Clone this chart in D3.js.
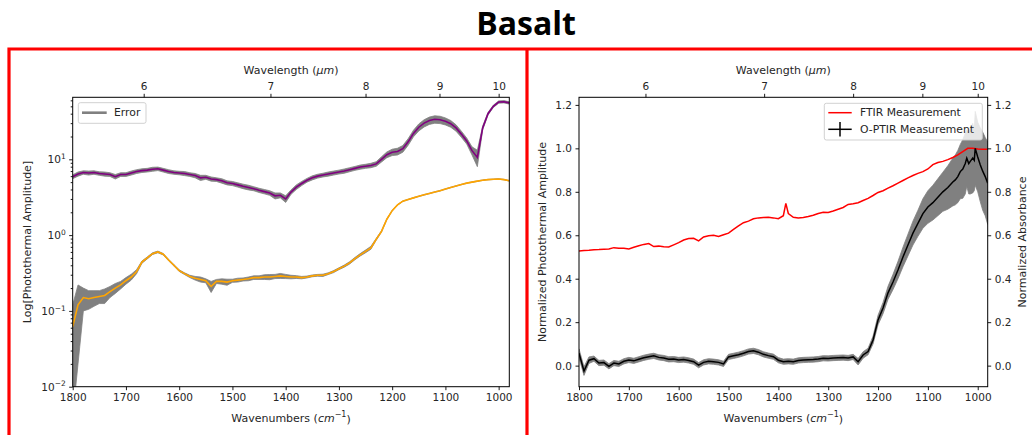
<!DOCTYPE html>
<html>
<head>
<meta charset="utf-8">
<script src="https://cdn.jsdelivr.net/npm/d3@7"></script>
<style>
  html, body { margin: 0; padding: 0; background: #fff; }
  svg text { font-family: "DejaVu Sans", sans-serif; fill: #262626; }
</style>
</head>
<body>
<svg id="fig" width="1032" height="435"></svg>
<script>
// ---- Data -----------------------------------------------------------------
// Wavenumber grid (cm^-1) shared by the two photothermal amplitude spectra
const wnLeft = [1800,1790,1780,1770,1760,1750,1740,1730,1720,1710,
  1700,1690,1680,1670,1660,1650,1640,1630,1620,1610,
  1600,1590,1580,1570,1560,1550,1540,1530,1520,1510,
  1500,1490,1480,1470,1460,1450,1440,1430,1420,1410,
  1400,1390,1380,1370,1360,1350,1340,1330,1320,1310,
  1300,1290,1280,1270,1260,1250,1240,1230,1220,1210,
  1200,1190,1180,1170,1160,1150,1140,1130,1120,1110,
  1100,1090,1080,1070,1060,1050,1040,1030,1020,1010,
  1000,990,980];

// Photothermal amplitude, upper (purple) spectrum and its error
const sampleAmp = [5.9,6.4,6.7,6.6,6.7,6.5,6.4,6.3,5.9,6.3,
  6.3,6.6,6.9,7.1,7.2,7.4,7.5,7.2,6.9,6.7,
  6.6,6.5,6.3,6.1,5.7,5.8,5.5,5.4,5.2,4.9,
  4.8,4.6,4.4,4.25,4.1,3.9,3.75,3.6,3.3,3.35,
  3.0,3.7,4.3,4.8,5.3,5.7,6.0,6.2,6.4,6.6,
  6.8,7.0,7.3,7.6,7.9,8.1,8.3,8.7,10.0,11.5,
  12.4,12.7,13.8,17,22,26.5,30,32.5,33.7,33.3,
  31.8,29.5,26,21.5,17.5,13,10.6,26,40,50,
  57,57.5,55.5];
const sampleErr = [0.35,0.4,0.35,0.4,0.35,0.35,0.4,0.35,0.4,0.35,
  0.35,0.4,0.4,0.4,0.4,0.45,0.4,0.4,0.4,0.35,
  0.35,0.4,0.35,0.4,0.45,0.35,0.35,0.3,0.35,0.3,
  0.3,0.3,0.3,0.3,0.25,0.25,0.25,0.25,0.3,0.25,
  0.3,0.25,0.3,0.3,0.3,0.35,0.35,0.35,0.4,0.4,
  0.4,0.45,0.45,0.45,0.5,0.5,0.55,0.6,0.8,1.0,
  1.2,1.3,1.4,1.7,2.2,2.8,3.3,3.6,3.8,3.7,
  3.4,3.0,2.5,2.0,1.6,1.6,2.6,1.5,1.6,1.8,
  2.0,2.0,2.0];

// Photothermal amplitude, lower (orange) spectrum and its error
const lowerAmp = [0.062,0.12,0.15,0.145,0.15,0.155,0.16,0.18,0.2,0.22,
  0.25,0.28,0.33,0.44,0.5,0.57,0.6,0.56,0.47,0.4,
  0.34,0.31,0.285,0.27,0.26,0.25,0.21,0.245,0.245,0.24,
  0.25,0.255,0.26,0.265,0.275,0.275,0.28,0.28,0.285,0.29,
  0.285,0.28,0.28,0.275,0.28,0.29,0.295,0.295,0.31,0.33,
  0.36,0.39,0.43,0.49,0.55,0.61,0.68,0.88,1.12,1.62,
  2.1,2.5,2.8,2.95,3.1,3.25,3.4,3.55,3.7,3.85,
  4.05,4.25,4.45,4.65,4.85,5.0,5.15,5.3,5.4,5.45,
  5.5,5.4,5.2];
const lowerErr = [0.058,0.1,0.05,0.04,0.035,0.03,0.035,0.03,0.03,0.025,
  0.025,0.025,0.02,0.015,0.015,0.015,0.015,0.012,0.01,0.008,
  0.008,0.008,0.01,0.015,0.02,0.015,0.035,0.015,0.02,0.022,
  0.012,0.015,0.012,0.015,0.015,0.015,0.02,0.022,0.018,0.022,
  0.018,0.015,0.012,0.01,0.008,0.008,0.008,0.01,0.008,0.01,
  0.01,0.012,0.015,0.017,0.02,0.025,0.03,0.025,0.025,0.025,
  0.025,0.025,0.025,0.025,0.025,0.025,0.03,0.03,0.03,0.03,
  0.035,0.035,0.035,0.035,0.035,0.04,0.04,0.04,0.04,0.04,
  0.04,0.04,0.04];

// FTIR normalized absorbance
const ftirWn = [1800,1790,1780,1770,1760,1750,1740,1730,1720,1710,
  1700,1690,1680,1670,1660,1650,1640,1630,1620,1610,
  1600,1590,1580,1570,1560,1550,1540,1530,1520,1510,
  1500,1490,1480,1470,1460,1450,1440,1430,1420,1410,
  1400,1390,1385,1380,1370,1360,1350,1340,1330,1320,
  1310,1300,1290,1280,1270,1260,1250,1240,1230,1220,
  1210,1200,1190,1180,1170,1160,1150,1140,1130,1120,
  1110,1100,1090,1080,1070,1060,1050,1040,1030,1020,
  1010,1000,990,980];
const ftirAbs = [0.527,0.530,0.531,0.533,0.534,0.536,0.537,0.543,0.540,0.540,
  0.537,0.545,0.552,0.558,0.562,0.548,0.550,0.547,0.546,0.556,
  0.566,0.578,0.585,0.586,0.574,0.592,0.598,0.600,0.594,0.602,
  0.610,0.627,0.643,0.658,0.665,0.676,0.680,0.682,0.683,0.680,
  0.676,0.690,0.747,0.700,0.683,0.680,0.682,0.686,0.692,0.700,
  0.706,0.705,0.712,0.720,0.728,0.742,0.745,0.750,0.760,0.770,
  0.783,0.797,0.805,0.817,0.828,0.840,0.852,0.864,0.875,0.885,
  0.893,0.905,0.925,0.935,0.940,0.948,0.958,0.970,0.985,1.000,
  1.000,0.997,0.996,0.996];

// O-PTIR normalized photothermal amplitude and its error
const optirWn = [1800,1790,1780,1770,1760,1750,1740,1730,1720,1710,
  1700,1690,1680,1670,1660,1650,1640,1630,1620,1610,
  1600,1590,1580,1570,1560,1550,1540,1530,1520,1510,
  1500,1490,1480,1470,1460,1450,1440,1430,1420,1410,
  1400,1390,1380,1370,1360,1350,1340,1330,1320,1310,
  1300,1290,1280,1270,1260,1250,1240,1230,1220,1210,
  1200,1190,1180,1170,1160,1150,1140,1130,1120,1110,
  1100,1090,1080,1070,1060,1050,
  1045,1040,1035,1030,1025,1022,1018,1015,1010,1007,
  1005,1000,995,990,985,980];
const optirAmp = [0.057,-0.025,0.025,0.032,0.012,0.014,-0.003,0.012,0.008,0.020,
  0.026,0.022,0.029,0.036,0.041,0.045,0.038,0.035,0.029,0.030,
  0.026,0.028,0.024,0.018,0.002,0.015,0.020,0.018,0.015,0.008,
  0.040,0.045,0.050,0.057,0.065,0.068,0.062,0.052,0.046,0.041,
  0.025,0.018,0.020,0.018,0.024,0.026,0.027,0.028,0.030,0.034,
  0.033,0.035,0.036,0.037,0.035,0.040,0.018,0.049,0.065,0.118,
  0.210,0.265,0.335,0.385,0.440,0.500,0.555,0.610,0.655,0.700,
  0.730,0.750,0.775,0.800,0.820,0.845,
  0.855,0.870,0.893,0.905,0.930,0.955,0.930,0.940,0.955,0.945,
  1.000,0.960,0.925,0.895,0.870,0.840];
const optirErr = [0.02,0.02,0.015,0.012,0.012,0.012,0.012,0.012,0.012,0.012,
  0.012,0.012,0.012,0.012,0.012,0.012,0.012,0.012,0.012,0.012,
  0.012,0.012,0.012,0.012,0.012,0.012,0.012,0.012,0.012,0.012,
  0.012,0.012,0.012,0.012,0.012,0.012,0.012,0.012,0.012,0.012,
  0.012,0.012,0.012,0.012,0.012,0.012,0.012,0.012,0.012,0.012,
  0.012,0.012,0.012,0.012,0.012,0.012,0.015,0.015,0.015,0.018,
  0.022,0.026,0.03,0.035,0.04,0.045,0.05,0.055,0.06,0.068,
  0.075,0.08,0.085,0.09,0.1,0.11,
  0.115,0.12,0.125,0.135,0.14,0.13,0.14,0.15,0.16,0.14,
  0.17,0.16,0.17,0.18,0.18,0.19];

// Tick values
const wavenumberTicks = [1800,1700,1600,1500,1400,1300,1200,1100,1000];
const wavelengthTicks = [6,7,8,9,10];
const logTicks = [0.01,0.1,1,10];
const logMinorTicks = [0.02,0.03,0.04,0.05,0.06,0.07,0.08,0.09,
  0.2,0.3,0.4,0.5,0.6,0.7,0.8,0.9,2,3,4,5,6,7,8,9,20,30,40,50,60];
const normTicks = [0,0.2,0.4,0.6,0.8,1.0,1.2];
const legendLeft = ["Error"];
const legendRight = ["FTIR Measurement", "O-PTIR Measurement"];

// ---- Drawing --------------------------------------------------------------
const svg = d3.select("#fig");
svg.append("rect").attr("width", 1032).attr("height", 435).attr("fill", "#fff");

const TOP = 97.3, BOTTOM = 386.7;
const TICK = 3.5;

// title
svg.append("text").attr("x", 526).attr("y", 35)
  .attr("text-anchor", "middle")
  .style("font-family", "'Open Sans', sans-serif")
  .style("font-weight", 700).style("font-size", "32px").style("fill", "#000")
  .text("Basalt");

// red panel frames
svg.append("path").attr("d", "M9,435 V49 H1032")
  .attr("fill", "none").attr("stroke", "#ff0000").attr("stroke-width", 3.2);
svg.append("line").attr("x1", 527).attr("x2", 527).attr("y1", 49).attr("y2", 435)
  .attr("stroke", "#ff0000").attr("stroke-width", 3.2);

function styleAxis(g, size) {
  g.select(".domain").remove();
  g.selectAll(".tick line").attr("stroke", "#000").attr("stroke-width", 0.9);
  g.selectAll(".tick text").style("font-size", size + "px")
    .style("font-family", "'DejaVu Sans', sans-serif").attr("fill", "#262626");
  g.attr("font-family", null).attr("font-size", null);
}

function wavelengthAxis(g, x) {
  const ax = g.append("g").attr("transform", `translate(0,${TOP})`)
    .call(d3.axisTop(x)
      .tickValues(wavelengthTicks.map(l => 1e4 / l))
      .tickFormat(d => d3.format("d")(Math.round(1e4 / d)))
      .tickSize(TICK).tickPadding(3.5));
  styleAxis(ax, 10.5);
}

function wavenumberAxis(g, x) {
  const ax = g.append("g").attr("transform", `translate(0,${BOTTOM})`)
    .call(d3.axisBottom(x).tickValues(wavenumberTicks)
      .tickFormat(d3.format("d")).tickSize(TICK).tickPadding(3.5));
  styleAxis(ax, 10.5);
}

function axisTitle(g, x, y, rotate, parts) {
  const t = g.append("text")
    .attr("transform", `translate(${x},${y})` + (rotate ? " rotate(-90)" : ""))
    .attr("text-anchor", "middle").attr("dominant-baseline", "central")
    .style("font-size", "11px");
  parts.forEach(p => {
    const s = t.append("tspan").text(p.t);
    if (p.i) s.style("font-style", "italic");
    if (p.sup) s.attr("dy", "-0.45em").style("font-size", "8px");
    if (p.after) s.attr("dy", "0.45em");
  });
  return t;
}

function frame(g, x0, x1) {
  g.append("rect").attr("x", x0).attr("y", TOP)
    .attr("width", x1 - x0).attr("height", BOTTOM - TOP)
    .attr("fill", "none").attr("stroke", "#000").attr("stroke-width", 1);
}

function clip(id, x0, x1) {
  svg.append("clipPath").attr("id", id).append("rect")
    .attr("x", x0).attr("y", TOP).attr("width", x1 - x0).attr("height", BOTTOM - TOP);
}

const wavelengthTitle = [{t: "Wavelength ("}, {t: "μm", i: true}, {t: ")"}];
const wavenumberTitle = [{t: "Wavenumbers ("}, {t: "cm", i: true},
  {t: "−1", sup: true}, {t: ")", after: true}];

// ---- Left panel: log photothermal amplitude ----
const L0 = 72.7, L1 = 509.3;
const xL = d3.scaleLinear().domain([1800, 980]).range([L0, L1]);
const yL = d3.scaleLog().domain([0.01, 65.8]).range([BOTTOM, TOP]);
const gL = svg.append("g");
clip("clipL", L0, L1);
const plotL = gL.append("g").attr("clip-path", "url(#clipL)");

function logBand(vals, errs) {
  return d3.area()
    .x((d, i) => xL(wnLeft[i]))
    .y0((d, i) => yL(Math.max(vals[i] - errs[i], 0.004)))
    .y1((d, i) => yL(vals[i] + errs[i]))(vals);
}
function logLine(vals) {
  return d3.line().x((d, i) => xL(wnLeft[i])).y(d => yL(d))(vals);
}

plotL.append("path").attr("d", logBand(sampleAmp, sampleErr))
  .attr("fill", "#808080").attr("stroke", "#808080").attr("stroke-width", 0.8);
plotL.append("path").attr("d", logBand(lowerAmp, lowerErr))
  .attr("fill", "#808080").attr("stroke", "#808080").attr("stroke-width", 0.8);
plotL.append("path").attr("d", logLine(sampleAmp))
  .attr("fill", "none").attr("stroke", "#800080").attr("stroke-width", 1.6);
plotL.append("path").attr("d", logLine(lowerAmp))
  .attr("fill", "none").attr("stroke", "#ffa500").attr("stroke-width", 1.6);

frame(gL, L0, L1);
wavenumberAxis(gL, xL);
wavelengthAxis(gL, xL);

// log y axis with minor ticks and power-of-ten labels
const yAxL = gL.append("g").attr("transform", `translate(${L0},0)`)
  .call(d3.axisLeft(yL).tickValues(logTicks).tickFormat("").tickSize(TICK).tickPadding(3.5));
styleAxis(yAxL, 10.5);
yAxL.selectAll(".tick text").each(function(d) {
  const t = d3.select(this);
  const exp = Math.round(Math.log10(d));
  t.append("tspan").text("10");
  t.append("tspan").text(exp < 0 ? "−" + (-exp) : String(exp))
    .attr("dy", "-0.55em").style("font-size", "7.5px");
});
const yMinL = gL.append("g").attr("transform", `translate(${L0},0)`)
  .call(d3.axisLeft(yL).tickValues(logMinorTicks).tickFormat("").tickSize(2));
styleAxis(yMinL, 10);

axisTitle(gL, (L0 + L1) / 2, 70, false, wavelengthTitle);
axisTitle(gL, (L0 + L1) / 2, 418, false, wavenumberTitle);
axisTitle(gL, 27, (TOP + BOTTOM) / 2, true, [{t: "Log[Photothermal Amplitude]"}]);

// legend
const lgL = gL.append("g");
lgL.append("rect").attr("x", 78.3).attr("y", 102.7).attr("width", 67.7).attr("height", 20.6)
  .attr("rx", 2).attr("fill", "#fff").attr("fill-opacity", 0.8)
  .attr("stroke", "#cccccc").attr("stroke-width", 0.9);
lgL.append("line").attr("x1", 82).attr("x2", 106.7).attr("y1", 112.7).attr("y2", 112.7)
  .attr("stroke", "#808080").attr("stroke-width", 2.6);
lgL.append("text").attr("x", 114).attr("y", 112.9).attr("dominant-baseline", "central")
  .style("font-size", "10.8px").text(legendLeft[0]);

// ---- Right panel: normalized spectra ----
const R0 = 579, R1 = 987.7;
const xR = d3.scaleLinear().domain([1800, 980]).range([R0, R1]);
const yR = d3.scaleLinear().domain([-0.097, 1.235]).range([BOTTOM, TOP]);
const gR = svg.append("g");
clip("clipR", R0, R1);
const plotR = gR.append("g").attr("clip-path", "url(#clipR)");

plotR.append("path")
  .attr("d", d3.area()
    .x((d, i) => xR(optirWn[i]))
    .y0((d, i) => yR(optirAmp[i] - optirErr[i]))
    .y1((d, i) => yR(optirAmp[i] + optirErr[i]))(optirAmp))
  .attr("fill", "#808080").attr("stroke", "#808080").attr("stroke-width", 0.8);
plotR.append("path")
  .attr("d", d3.line().x((d, i) => xR(ftirWn[i])).y(d => yR(d))(ftirAbs))
  .attr("fill", "none").attr("stroke", "#ff0000").attr("stroke-width", 1.5);
plotR.append("path")
  .attr("d", d3.line().x((d, i) => xR(optirWn[i])).y(d => yR(d))(optirAmp))
  .attr("fill", "none").attr("stroke", "#000").attr("stroke-width", 1.5);

frame(gR, R0, R1);
wavenumberAxis(gR, xR);
wavelengthAxis(gR, xR);
const yAxR = gR.append("g").attr("transform", `translate(${R0},0)`)
  .call(d3.axisLeft(yR).tickValues(normTicks).tickFormat(d3.format(".1f")).tickSize(TICK).tickPadding(3.5));
styleAxis(yAxR, 10.5);
const yAxR2 = gR.append("g").attr("transform", `translate(${R1},0)`)
  .call(d3.axisRight(yR).tickValues(normTicks).tickFormat(d3.format(".1f")).tickSize(TICK).tickPadding(3.5));
styleAxis(yAxR2, 10.5);

axisTitle(gR, (R0 + R1) / 2, 70, false, wavelengthTitle);
axisTitle(gR, (R0 + R1) / 2, 418, false, wavenumberTitle);
axisTitle(gR, 541.7, (TOP + BOTTOM) / 2, true, [{t: "Normalized Photothermal Amplitude"}]);
axisTitle(gR, 1021.7, (TOP + BOTTOM) / 2, true, [{t: "Normalized Absorbance"}]);

const lgR = gR.append("g");
lgR.append("rect").attr("x", 824.3).attr("y", 103.3).attr("width", 158).attr("height", 36.7)
  .attr("rx", 2).attr("fill", "#fff").attr("fill-opacity", 0.8)
  .attr("stroke", "#cccccc").attr("stroke-width", 0.9);
lgR.append("line").attr("x1", 828.3).attr("x2", 851.7).attr("y1", 112.7).attr("y2", 112.7)
  .attr("stroke", "#ff0000").attr("stroke-width", 1.5);
lgR.append("line").attr("x1", 828.3).attr("x2", 851.7).attr("y1", 129.3).attr("y2", 129.3)
  .attr("stroke", "#000").attr("stroke-width", 1.5);
lgR.append("line").attr("x1", 840).attr("x2", 840).attr("y1", 122).attr("y2", 136.6)
  .attr("stroke", "#000").attr("stroke-width", 1.5);
lgR.selectAll("text.lg").data(legendRight).join("text")
  .attr("x", 860).attr("y", (d, i) => 112.9 + i * 16.6)
  .attr("dominant-baseline", "central").style("font-size", "10.8px")
  .text(d => d);
</script>
</body>
</html>
